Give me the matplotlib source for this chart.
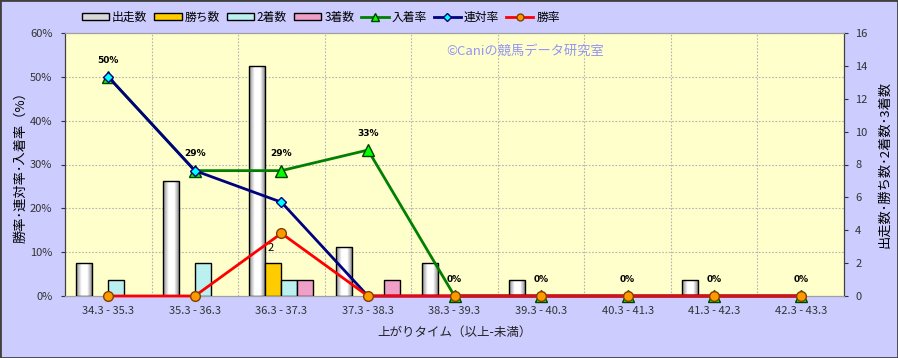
import numpy as np
import matplotlib.pyplot as plt
from matplotlib.patches import Patch, Rectangle
from matplotlib.lines import Line2D
from matplotlib.colors import LinearSegmentedColormap

plt.rcParams['font.family'] = ['Noto Sans CJK JP', 'DejaVu Sans']

# data
categories = ["34.3 - 35.3", "35.3 - 36.3", "36.3 - 37.3", "37.3 - 38.3", "38.3 - 39.3",
              "39.3 - 40.3", "40.3 - 41.3", "41.3 - 42.3", "42.3 - 43.3"]
runs = [2, 7, 14, 3, 2, 1, 0, 1, 0]
wins = [0, 0, 2, 0, 0, 0, 0, 0, 0]
seconds = [1, 2, 1, 0, 0, 0, 0, 0, 0]
thirds = [0, 0, 1, 1, 0, 0, 0, 0, 0]
win_rate = [0, 0, 14.3, 0, 0, 0, 0, 0, 0]
rentai_rate = [50, 28.6, 21.4, 0, 0, 0, 0, 0, 0]
place_rate = [50, 28.6, 28.6, 33.3, 0, 0, 0, 0, 0]
place_labels = ["50%", "29%", "29%", "33%", "0%", "0%", "0%", "0%", "0%"]

fig = plt.figure(figsize=(8.98, 3.58), dpi=100, facecolor="#CCCCFF")
fig.patches.append(Rectangle((0, 0), 1, 1, transform=fig.transFigure, fill=False,
                             edgecolor="#404040", linewidth=2))

ax = fig.add_axes([65 / 898, 62 / 358, 779 / 898, 263 / 358])
ax.set_facecolor("#FFFFCC")
ax2 = ax.twinx()
ax3 = ax.twinx()

x = np.arange(len(categories))
w = 0.185
grid_kw = dict(color="#B4B4B4", linestyle=(0, (1.5, 1.5)), linewidth=0.8)

# percent axis (left) with grid
ax.set_xlim(-0.5, len(categories) - 0.5)
ax.set_ylim(0, 60)
ax.set_yticks(np.arange(0, 61, 10))
ax.set_yticklabels([f"{v}%" for v in range(0, 61, 10)])
ax.set_xticks(x)
ax.set_xticklabels(categories)
ax.set_xticks(np.arange(-0.5, len(categories), 1), minor=True)
ax.grid(True, which="minor", axis="x", **grid_kw)
ax.grid(True, which="major", axis="y", **grid_kw)
ax.tick_params(axis="x", which="both", length=0, labelsize=8, colors="#333333", pad=7)
ax.tick_params(axis="y", length=3, labelsize=8, colors="#333333", pad=6)
ax.set_ylabel("勝率･連対率･入着率（%）", fontsize=9.5, labelpad=2)
ax.set_xlabel("上がりタイム（以上-未満）", fontsize=9, labelpad=7, color="#222222")

# bars on count axis (right)
def lw_for(vals):
    return [1 if v > 0 else 0 for v in vals]

b_runs = ax2.bar(x - 1.5 * w, runs, w, facecolor="none", edgecolor="black",
                 linewidth=lw_for(runs), zorder=3)
ax2.bar(x - 0.5 * w, wins, w, color="#FFCC00", edgecolor="black", linewidth=lw_for(wins), zorder=3)
ax2.bar(x + 0.5 * w, seconds, w, color="#BBF0F0", edgecolor="black", linewidth=lw_for(seconds), zorder=3)
ax2.bar(x + 1.5 * w, thirds, w, color="#F0A0C8", edgecolor="black", linewidth=lw_for(thirds), zorder=3)

grad_cmap = LinearSegmentedColormap.from_list("cyl", ["#8C8C8C", "#FFFFFF", "#FFFFFF", "#7A7A7A"])
grad = np.linspace(0, 1, 64).reshape(1, -1)
for p in b_runs:
    if p.get_height() <= 0:
        continue
    x0, y0 = p.get_x(), p.get_y()
    im = ax2.imshow(grad, extent=[x0, x0 + p.get_width(), y0, y0 + p.get_height()],
                    aspect="auto", cmap=grad_cmap, zorder=2.5)
    im.set_clip_path(p)

for xi, v in zip(x, wins):
    if v > 0:
        ax2.annotate(str(v), (xi - 0.5 * w, v), xytext=(-2, 11), textcoords="offset points",
                     ha="center", va="center", fontsize=8)

ax2.set_xlim(-0.5, len(categories) - 0.5)
ax2.set_ylim(0, 16)
ax2.set_yticks(np.arange(0, 17, 2))
ax2.tick_params(axis="y", length=3, labelsize=8, colors="#333333", pad=5)
ax2.set_ylabel("出走数･勝ち数･2着数･3着数", fontsize=9.5, rotation=90, labelpad=8)

# rate lines on top
ax3.set_ylim(0, 60)
ax3.set_xlim(-0.5, len(categories) - 0.5)
ax3.plot(x, place_rate, color="#008000", linewidth=2, marker="^", markersize=8,
         markerfacecolor="#00FF00", markeredgecolor="#004000", clip_on=False, zorder=4)
ax3.plot(x, rentai_rate, color="#000080", linewidth=2, marker="D", markersize=5,
         markerfacecolor="#00FFFF", markeredgecolor="#000080", clip_on=False, zorder=5)
ax3.plot(x, win_rate, color="#FF0000", linewidth=2, marker="o", markersize=7,
         markerfacecolor="#FF9900", markeredgecolor="#804000", clip_on=False, zorder=6)
for xi, v, lab in zip(x, place_rate, place_labels):
    ax3.annotate(lab, (xi, v), xytext=(0, 12), textcoords="offset points",
                 ha="center", va="center", fontsize=6.5, fontweight="bold",
                 family="DejaVu Sans")
ax3.set_yticks([])
for s in ax3.spines.values():
    s.set_visible(False)

for a in (ax, ax2):
    for name, s in a.spines.items():
        s.set_color("#404040" if name in ("left", "right") else "#A0A0A0")

ax.text(0.49, 0.93, "©Caniの競馬データ研究室", transform=ax.transAxes, fontsize=9.5,
        color="#9494F4", ha="left", va="center")

handles = [
    Patch(facecolor="#D8D8D8", edgecolor="black"),
    Patch(facecolor="#FFCC00", edgecolor="black"),
    Patch(facecolor="#BBF0F0", edgecolor="black"),
    Patch(facecolor="#F0A0C8", edgecolor="black"),
    Line2D([], [], color="#008000", linewidth=2, marker="^", markersize=6,
           markerfacecolor="#00FF00", markeredgecolor="#004000"),
    Line2D([], [], color="#000080", linewidth=2, marker="D", markersize=4,
           markerfacecolor="#00FFFF", markeredgecolor="#000080"),
    Line2D([], [], color="#FF0000", linewidth=2, marker="o", markersize=5,
           markerfacecolor="#FF9900", markeredgecolor="#804000"),
]
labels = ["出走数", "勝ち数", "2着数", "3着数", "入着率", "連対率", "勝率"]
fig.legend(handles, labels, loc="center left", bbox_to_anchor=(82 / 898, 1 - 17 / 358),
           ncol=7, frameon=False, fontsize=8.5, handlelength=2.3, handleheight=0.5,
           handletextpad=0.25, columnspacing=0.6, borderpad=0, borderaxespad=0)

fig.savefig("out.png", dpi=100, facecolor=fig.get_facecolor())
